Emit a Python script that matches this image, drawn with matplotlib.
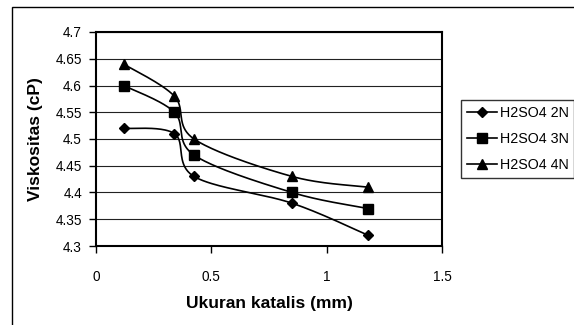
import numpy as np
import matplotlib
matplotlib.use("Agg")
import matplotlib.pyplot as plt
from matplotlib.patches import Rectangle

plt.rcParams["font.family"] = ["Liberation Sans", "DejaVu Sans"]

ukuran = [0.12, 0.34, 0.425, 0.85, 1.18]
visk_2n = [4.52, 4.51, 4.43, 4.38, 4.32]
visk_3n = [4.60, 4.55, 4.47, 4.40, 4.37]
visk_4n = [4.64, 4.58, 4.50, 4.43, 4.41]
labels = ["H2SO4 2N", "H2SO4 3N", "H2SO4 4N"]
markers = ["D", "s", "^"]

XMIN, XMAX, YMIN, YMAX = 0, 1.5, 4.3, 4.7


def smooth(xs, ys, n=40):
    # Excel-like smoothed line: Catmull-Rom in pixel-like space
    px = (np.asarray(xs) - XMIN) / (XMAX - XMIN) * 346
    py = (np.asarray(ys) - YMIN) / (YMAX - YMIN) * 214
    pts = np.column_stack([px, py])
    pts = np.vstack([pts[0], pts, pts[-1]])
    out = []
    for i in range(1, len(pts) - 2):
        p0, p1, p2, p3 = pts[i - 1], pts[i], pts[i + 1], pts[i + 2]
        c1 = p1 + (p2 - p0) / 6
        c2 = p2 - (p3 - p1) / 6
        t = np.linspace(0, 1, n)[:, None]
        seg = ((1 - t) ** 3 * p1 + 3 * (1 - t) ** 2 * t * c1
               + 3 * (1 - t) * t ** 2 * c2 + t ** 3 * p2)
        out.append(seg)
    out = np.vstack(out)
    return (out[:, 0] / 346 * (XMAX - XMIN) + XMIN,
            out[:, 1] / 214 * (YMAX - YMIN) + YMIN)


fig = plt.figure(figsize=(5.74, 3.25), dpi=100)
ax = fig.add_axes([96 / 574, 1 - 246 / 325, 346 / 574, 214 / 325])

# outer chart-area border (right and bottom are cut off in the original)
fig.patches.append(Rectangle((12 / 574, -0.1), 1.2, 1 - 7 / 325 + 0.1,
                             transform=fig.transFigure, fill=False,
                             edgecolor="black", linewidth=1.0))

for ys, lab, m in zip([visk_2n, visk_3n, visk_4n], labels, markers):
    ms = 5.5 if m == "D" else 6.5
    sx, sy = smooth(ukuran, ys)
    ax.plot(sx, sy, color="black", linewidth=1.2)
    ax.plot(ukuran, ys, linestyle="none", marker=m, color="black",
            markersize=ms)
    ax.plot([], [], color="black", linewidth=1.2, marker=m,
            markersize=ms, label=lab)

ax.set_xlim(XMIN, XMAX)
ax.set_ylim(YMIN, YMAX)
ax.set_xticks([0, 0.5, 1, 1.5])
ax.set_xticklabels(["0", "0.5", "1", "1.5"])
yt = np.round(np.arange(4.3, 4.701, 0.05), 2)
ax.set_yticks(yt)
ax.set_yticklabels([f"{v:g}" for v in yt])
ax.yaxis.grid(True, color="#222222", linewidth=0.8)
ax.set_axisbelow(True)
for s in ax.spines.values():
    s.set_linewidth(1.5)
ax.tick_params(direction="out", length=5, width=1, labelsize=9.8)
ax.tick_params(axis="x", pad=12)
ax.tick_params(axis="y", pad=5)

ax.set_xlabel("Ukuran katalis (mm)", fontsize=12.5, fontweight="bold",
              labelpad=9)
ax.set_ylabel("Viskositas (cP)", fontsize=12.5, fontweight="bold",
              labelpad=9)

leg = fig.legend(loc="upper left", bbox_to_anchor=(461 / 574, 1 - 100 / 325),
                 frameon=True, fancybox=False, edgecolor="black",
                 fontsize=10.3, handlelength=2.15, handletextpad=0.15,
                 borderpad=0.4, labelspacing=0.85, borderaxespad=0)
leg.get_frame().set_linewidth(1.0)

fig.savefig("out.png", dpi=100)
